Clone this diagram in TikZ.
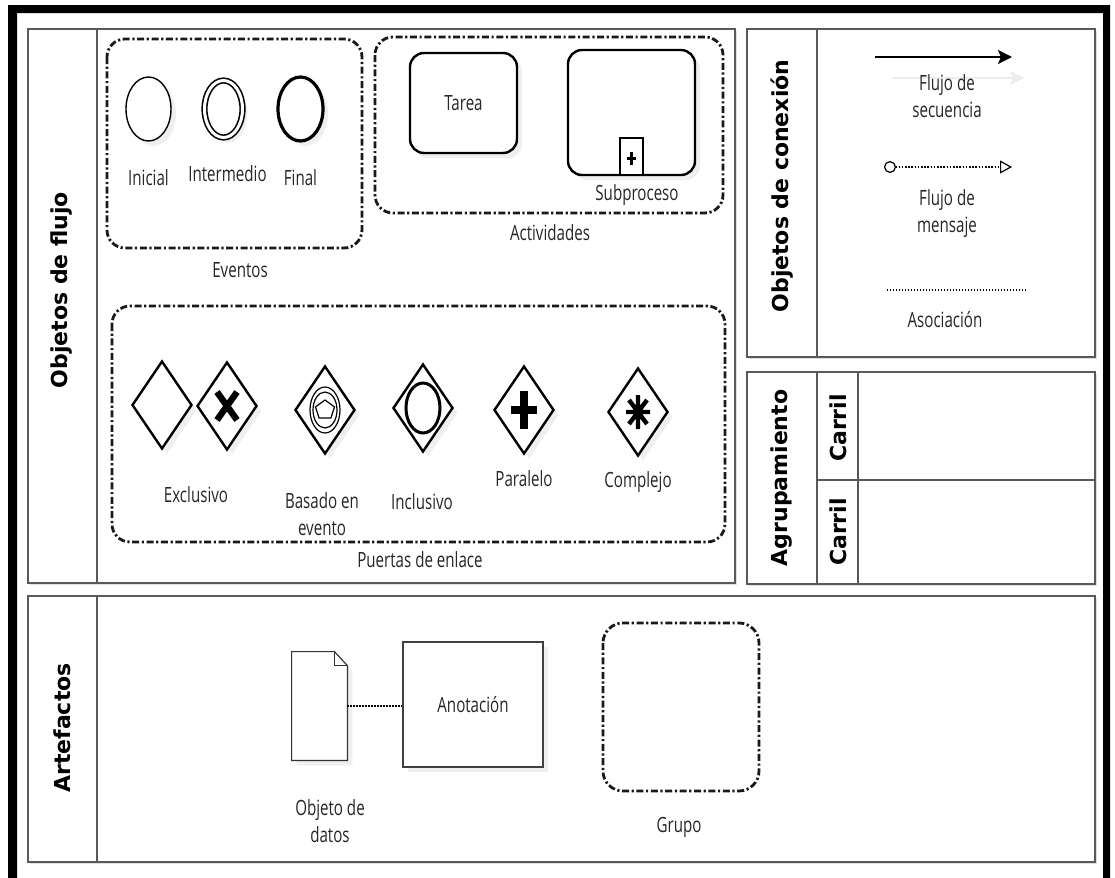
\documentclass[tikz,border=0pt]{standalone}
\usepackage{fontspec}
\usepackage{tikz}
\usetikzlibrary{shapes.geometric, arrows.meta, positioning, calc, shadows}
\newfontfamily\lblfont{Open Sans}[FakeStretch=0.72]
\newfontfamily\hdrfont{DejaVu Sans}
\tikzset{
  panel/.style = {draw=black!65, line width=0.7pt, fill=white,
    drop shadow={shadow xshift=1pt, shadow yshift=-1pt, opacity=0.25}},
  divider/.style = {draw=black!65, line width=0.7pt},
  grupo/.style = {draw=black!90, line width=1.4pt, rounded corners=9pt,
    dash pattern=on 3.5pt off 1.3pt on 1.1pt off 1.3pt},
  hdr/.style = {font=\hdrfont\bfseries\fontsize{11}{12}\selectfont, rotate=90, inner sep=0pt},
  lbl/.style = {font=\lblfont\fontsize{10.5}{13.5}\selectfont, text=black!85, align=center, inner sep=0.5pt},
  sombra/.style = {drop shadow={shadow xshift=2.5pt, shadow yshift=-2.5pt, opacity=0.12}},
  evento/.style = {ellipse, draw, fill=white, sombra, minimum width=22.5pt, minimum height=32pt, inner sep=0pt},
  actividad/.style = {rectangle, draw, fill=white, sombra, line width=1.2pt, rounded corners=7pt, lbl},
  compuerta/.style = {diamond, draw, fill=white, sombra, line width=1.2pt,
    minimum width=30pt, minimum height=44pt, inner sep=0pt},
  marca/.style = {rectangle, draw, fill=white, line width=1pt, minimum width=11.5pt, minimum height=18.5pt, inner sep=0pt},
  anotacion/.style = {rectangle, draw=black!75, fill=white, sombra, line width=0.6pt,
    minimum width=70pt, minimum height=62.5pt, lbl},
  dato/.style = {rectangle, draw=none, minimum width=27.5pt, minimum height=54pt, inner sep=0pt},
  flecha/.style = {line width=1pt, -{Stealth[length=7pt, width=7pt, inset=1.5pt]}},
  mensaje/.style = {line width=0.6pt, dash pattern=on 0.8pt off 0.8pt,
    {Circle[open, length=6pt, width=6pt]}-{Triangle[open, length=6pt, width=6.5pt]}},
  asociacion/.style = {line width=0.9pt, dash pattern=on 0.7pt off 0.8pt},
}
\begin{document}
\begin{tikzpicture}[x=0.5pt, y=-0.5pt, node distance=13pt]
  \useasboundingbox (0,0) rectangle (1115,878);
  \fill[black, even odd rule] (8,5) rectangle (1110,890) (17,13) rectangle (1103,890);

  % Objetos de flujo
  \draw[panel] (28,29) rectangle (735,583);
  \draw[divider] (97,29) -- (97,583);
  \node[hdr] (hflujo) at (62,290) {Objetos de flujo};

  % Eventos
  \draw[grupo] (107,39) rectangle (362,248);
  \node[evento, line width=0.7pt] (ini) at (148.5,109) {};
  \node[evento, line width=0.8pt, double, double distance=1.5pt,
    minimum width=19pt, minimum height=28.5pt] (inter) at (223.5,109) {};
  \node[evento, line width=1.6pt] (fin) at (300.5,109) {};
  \node[lbl, below=of ini] (lini) {Inicial};
  \node[lbl, below=of inter, xshift=2pt] (linter) {Intermedio};
  \node[lbl, below=of fin] (lfin) {Final};
  \node[lbl] (leventos) at (240,270) {Eventos};

  % Actividades
  \draw[grupo] (375,37) rectangle (723,213);
  \node[actividad, minimum width=53.5pt, minimum height=50pt] (tarea) at (463.5,103) {Tarea};
  \node[actividad, minimum width=63.5pt, minimum height=62.5pt] (subp) at (631.5,112.5) {};
  \node[marca] (msub) at (631.5,156.5) {};
  \draw[line width=1.6pt] (msub.center) ++(-4.5,2) -- ++(9,0) (msub.center) ++(0,-5) -- ++(0,13);
  \node[lbl] (lsubp) at (637,195) {Subproceso};
  \node[lbl] (lact) at (550,233) {Actividades};

  % Puertas de enlace
  \draw[grupo] (112,306) rectangle (725,542);
  \node[compuerta] (g1) at (162,405) {};
  \node[compuerta] (g2) at (227,406) {};
  \node[compuerta] (g3) at (325,410) {};
  \node[compuerta] (g4) at (423,408) {};
  \node[compuerta] (g5) at (524,410) {};
  \node[compuerta] (g6) at (638,412) {};
  \draw[line width=3.2pt] (g2.center) ++(-10,-14) -- ++(20,28) (g2.center) ++(10,-14) -- ++(-20,28);
  \node[ellipse, draw, line width=0.6pt, minimum width=15pt, minimum height=23pt, inner sep=0pt] (g3a) at (g3) {};
  \node[ellipse, draw, line width=0.6pt, minimum width=12pt, minimum height=18pt, inner sep=0pt] (g3b) at (g3) {};
  \node[regular polygon, regular polygon sides=5, draw, line width=0.6pt, minimum size=10pt, inner sep=0pt] (g3c) at (g3) {};
  \node[ellipse, draw, line width=1.5pt, minimum width=17pt, minimum height=25pt, inner sep=0pt] (g4c) at (g4) {};
  \draw[line width=3.8pt] (g5.center) ++(-13,0) -- ++(26,0) (g5.center) ++(0,-19) -- ++(0,38);
  \draw[line width=2.2pt] (g6.center) ++(-12,0) -- ++(24,0) (g6.center) ++(0,-17) -- ++(0,34)
    (g6.center) ++(-9,-12) -- ++(18,24) (g6.center) ++(9,-12) -- ++(-18,24);
  \node[lbl] (lg1) at (196,495) {Exclusivo};
  \node[lbl] (lg3) at (322,514) {Basado en\\evento};
  \node[lbl] (lg4) at (422,502) {Inclusivo};
  \node[lbl] (lg5) at (524,479) {Paralelo};
  \node[lbl] (lg6) at (638,482) {Complejo};
  \node[lbl] (lpuertas) at (420,560) {Puertas de enlace};

  % Objetos de conexion
  \draw[panel] (747,29) rectangle (1095,357);
  \draw[divider] (817,29) -- (817,357);
  \node[hdr] (hcon) at (782,186) {Objetos de conexión};
  \coordinate (sf1) at (875,57);
  \coordinate (sf2) at (1012,57);
  \coordinate (sf3) at (892,78);
  \coordinate (sf4) at (1024,78);
  \draw[flecha, draw=black!7, fill=black!7] (sf3) -- (sf4);
  \draw[flecha] (sf1) -- (sf2);
  \node[lbl] (lsf) at (947,96) {Flujo de\\secuencia};
  \coordinate (mf1) at (884,167);
  \coordinate (mf2) at (1012,167);
  \draw[mensaje] (mf1) -- (mf2);
  \node[lbl] (lmf) at (947,214) {Flujo de\\mensaje};
  \coordinate (as1) at (887,290);
  \coordinate (as2) at (1027,290);
  \draw[asociacion] (as1) -- (as2);
  \node[lbl] (las) at (945,320) {Asociación};

  % Agrupamiento
  \draw[panel] (747,372) rectangle (1095,584);
  \draw[divider] (817,372) -- (817,584) (858,372) -- (858,584) (817,480) -- (1095,480);
  \node[hdr] (hagr) at (782,478) {Agrupamiento};
  \node[hdr] (carril1) at (838,428) {Carril};
  \node[hdr] (carril2) at (838,532) {Carril};

  % Artefactos
  \draw[panel] (28,596) rectangle (1095,862);
  \draw[divider] (97,596) -- (97,862);
  \node[hdr] (hart) at (62,728) {Artefactos};
  \node[dato] (dato) at (319.5,706) {};
  \filldraw[fill=white, draw=black!80, line width=0.6pt, sombra] (dato.south west) -- (dato.north west)
    -- ($(dato.north east)+(-13,0)$) -- ($(dato.north east)+(0,14)$) -- (dato.south east) -- cycle;
  \draw[black!80, line width=0.6pt] ($(dato.north east)+(-13,0)$) -- ++(0,14) -- ($(dato.north east)+(0,14)$);
  \node[anotacion] (anot) at (473,704.5) {Anotación};
  \draw[asociacion] (dato.east) -- (dato.east -| anot.west);
  \draw[grupo, rounded corners=10pt] (603,623) rectangle (759,791);
  \node[lbl] (ldato) at (330,821) {Objeto de\\datos};
  \node[lbl] (lgrupo) at (679,827) {Grupo};

\end{tikzpicture}
\end{document}
